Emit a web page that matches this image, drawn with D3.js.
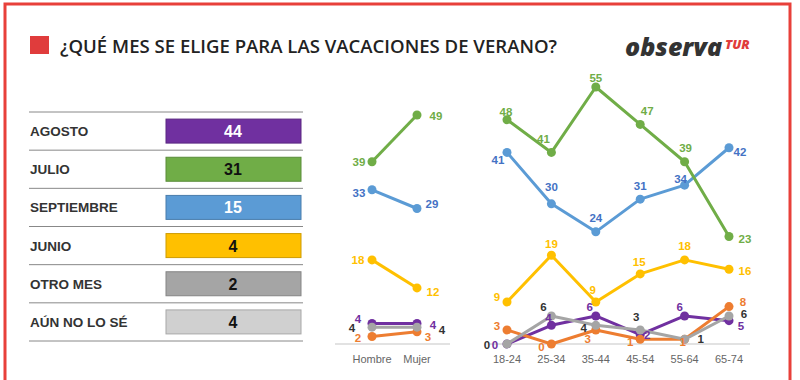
<!DOCTYPE html>
<html lang="es">
<head>
<meta charset="UTF-8">
<title>¿Qué mes se elige para las vacaciones de verano?</title>
<script src="https://d3js.org/d3.v7.min.js"></script>
<style>
  body { margin: 0; background: #fff; }
  svg { display: block; font-family: "Liberation Sans", Arial, sans-serif; }
</style>
</head>
<body>
<svg id="chart" width="800" height="380"></svg>
<script>
// ---- data ----
const months = ["AGOSTO", "JULIO", "SEPTIEMBRE", "JUNIO", "OTRO MES", "AÚN NO LO SÉ"];
const totals = [44, 31, 15, 4, 2, 4];

const genders = ["Hombre", "Mujer"];
const ages = ["18-24", "25-34", "35-44", "45-54", "55-64", "65-74"];

// gender values (small ones read from point position, labels rounded)
const gJulio = [39, 49];
const gSept = [33, 29];
const gJunio = [18, 12];
const gAgosto = [4.4, 4.4];
const gNoSe = [3.6, 3.6];
const gOtro = [1.6, 2.6];

const aJulio = [48, 41, 55, 47, 39, 23];
const aSept = [41, 30, 24, 31, 34, 42];
const aJunio = [9, 19, 9, 15, 18, 16];
const aAgosto = [0, 4, 6, 2, 6, 5];
const aNoSe = [0, 6, 4, 3, 1, 6];
const aOtro = [3, 0, 3, 1, 1, 8];

// ---- styles ----
const tableFill = ["#7030a0", "#70ad47", "#5b9bd5", "#ffc000", "#a5a5a5", "#d0d0d0"];
const tableText = ["#fff", "#111", "#fff", "#111", "#111", "#111"];

// label offsets (text centre relative to point)
const gOff = {
  julio: [[-13, 0], [19, 1]],
  sept: [[-13, 3], [15, -4]],
  junio: [[-14, 0], [16, 4]],
  agosto: [[-14, -4], [16, 2]],
  nose: [[-20, 1], [25, 3]],
  otro: [[-14, 1], [11, 5]]
};
const aOff = {
  julio: [[-1, -8], [-8, -13], [0, -9], [7, -13], [1, -14], [16, 2]],
  sept: [[-9, 8], [0, -17], [0, -14], [0, -13], [-4, -6], [11, 4]],
  junio: [[-10, -5], [0, -11], [-3, -12], [-1, -12], [0, -14], [16, 2]],
  agosto: [[-12, 1], [-3, -7], [-6, -9], [7, 0], [-5, -9], [12, 5]],
  nose: [[-20, 1], [-8, -9], [-12, 3], [-4, -13], [16, 0], [15, -2]],
  otro: [[-10, -4], [-10, 3], [-8, 9], [-10, 3], [-2, 3], [14, -5]]
};

const series = [
  { key: "sept", line: "#5b9bd5", label: "#4472c4", g: gSept, a: aSept },
  { key: "julio", line: "#70ad47", label: "#70ad47", g: gJulio, a: aJulio },
  { key: "junio", line: "#ffc000", label: "#ffc000", g: gJunio, a: aJunio },
  { key: "agosto", line: "#7030a0", label: "#7030a0", g: gAgosto, a: aAgosto },
  { key: "otro", line: "#ed7d31", label: "#ed7d31", g: gOtro, a: aOtro },
  { key: "nose", line: "#a5a5a5", label: "#333", g: gNoSe, a: aNoSe }
];

const svg = d3.select("#chart");

// frame
svg.append("rect").attr("x", 5).attr("y", 4).attr("width", 785).attr("height", 400)
  .attr("fill", "none").attr("stroke", "#e8403a").attr("stroke-width", 3);

// title
svg.append("rect").attr("x", 30).attr("y", 36).attr("width", 19).attr("height", 18).attr("fill", "#e03c3c");
svg.append("text").attr("x", 60).attr("y", 53)
  .attr("font-family", "'Open Sans', sans-serif").attr("font-size", 18).attr("font-weight", 600)
  .attr("fill", "#222")
  .attr("textLength", 497).attr("lengthAdjust", "spacingAndGlyphs")
  .text("¿QUÉ MES SE ELIGE PARA LAS VACACIONES DE VERANO?");

// logo
const logo = svg.append("text").attr("x", 625).attr("y", 56)
  .attr("font-family", "'Open Sans', sans-serif").attr("font-style", "italic").attr("font-weight", 800);
logo.append("tspan").attr("font-size", 25).attr("fill", "#333").text("observa");
logo.append("tspan").attr("font-size", 13).attr("fill", "#e03c3c").attr("dx", 3).attr("dy", -7).text("TUR");

// ---- table ----
const rowY = d3.scaleBand().domain(months).range([112, 341]);
const table = svg.append("g");
table.selectAll("line.sep").data(d3.range(months.length + 1)).join("line")
  .attr("x1", 29).attr("x2", 303)
  .attr("y1", i => 112 + i * rowY.step()).attr("y2", i => 112 + i * rowY.step())
  .attr("stroke", "#888").attr("stroke-width", 1);
table.selectAll("text.lab").data(months).join("text")
  .attr("x", 30).attr("y", d => rowY(d) + rowY.bandwidth() / 2 + 5)
  .attr("font-size", 13.5).attr("font-weight", "bold").attr("fill", "#333").text(d => d);
table.selectAll("rect.bar").data(months).join("rect")
  .attr("x", 166).attr("width", 135)
  .attr("y", d => rowY(d) + rowY.bandwidth() / 2 - 12).attr("height", 24)
  .attr("fill", (d, i) => tableFill[i])
  .attr("stroke", (d, i) => d3.color(tableFill[i]).darker(0.6)).attr("stroke-width", 1);
table.selectAll("text.val").data(months).join("text")
  .attr("x", 233).attr("y", d => rowY(d) + rowY.bandwidth() / 2 + 6)
  .attr("text-anchor", "middle").attr("font-size", 16).attr("font-weight", "bold")
  .attr("fill", (d, i) => tableText[i]).text((d, i) => totals[i]);

// ---- line charts ----
const y = d3.scaleLinear().domain([0, 55]).range([344, 87]);
const xg = d3.scalePoint().domain(genders).range([372, 417]);
const xa = d3.scalePoint().domain(ages).range([507, 729]);
const fmt = d3.format(".0f");

function panel(cats, x, field, offs, x0, x1) {
  const g = svg.append("g");
  g.append("line").attr("x1", x0).attr("x2", x1).attr("y1", y(0)).attr("y2", y(0))
    .attr("stroke", "#d9d9d9").attr("stroke-width", 1.5);
  g.selectAll("text.cat").data(cats).join("text")
    .attr("x", d => x(d)).attr("y", 363).attr("text-anchor", "middle")
    .attr("font-size", 11).attr("fill", "#666").text(d => d);
  const line = d3.line().x((d, i) => x(cats[i])).y(d => y(d));
  series.forEach(s => {
    const vals = s[field];
    g.append("path").datum(vals).attr("d", line).attr("fill", "none")
      .attr("stroke", s.line).attr("stroke-width", 3).attr("stroke-linejoin", "round");
    g.selectAll(null).data(vals).join("circle")
      .attr("cx", (d, i) => x(cats[i])).attr("cy", d => y(d)).attr("r", 4.5).attr("fill", s.line);
  });
  series.forEach(s => {
    const vals = s[field];
    g.selectAll(null).data(vals).join("text")
      .attr("x", (d, i) => x(cats[i]) + offs[s.key][i][0])
      .attr("y", (d, i) => y(d) + offs[s.key][i][1] + 4)
      .attr("text-anchor", "middle").attr("font-size", 11.5).attr("font-weight", "bold")
      .attr("fill", s.label).text(d => fmt(d));
  });
}

panel(genders, xg, "g", gOff, 335, 450);
panel(ages, xa, "a", aOff, 490, 750);
</script>
</body>
</html>
